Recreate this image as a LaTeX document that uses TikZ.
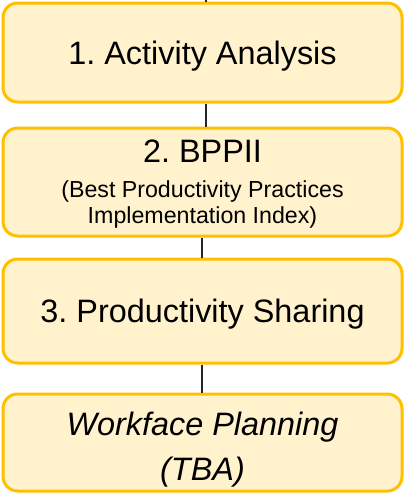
\documentclass[tikz,border=0pt]{standalone}
\usepackage{fontspec}
\setmainfont{Liberation Sans}
\frenchspacing
\definecolor{boxfill}{HTML}{FFF2CC}
\definecolor{boxline}{HTML}{FFC000}
\definecolor{conn}{HTML}{262626}
\begin{document}
\begin{tikzpicture}[x=0.75pt,y=-0.75pt,
  stage/.style={draw=boxline, fill=boxfill, line width=2.25pt, rounded corners=11pt,
    minimum width=399*0.75pt, inner sep=0pt, align=center, text=black},
  bigtext/.style={font=\fontsize{24.3}{33.75}\selectfont, text height=17.4pt, text depth=0pt},
  link/.style={draw=conn, line width=1.5pt}]
\useasboundingbox (0,0) rectangle (405,494);
\node[stage, bigtext, minimum height=99*0.75pt] (b1) at (202.5,52.5) {1. Activity Analysis};
\node[stage, font=\fontsize{17.4}{19.5}\selectfont, text height=70pt, text depth=8pt,
  minimum height=108*0.75pt] (b2) at (202.5,182)
  {{\fontsize{24.3}{24}\selectfont 2. BPPII}\\[6.8pt]
   (Best Productivity Practices\\Implementation Index)};
\node[stage, bigtext, minimum height=104*0.75pt] (b3) at (202.5,311) {3. Productivity Sharing};
\node[stage, font=\fontsize{24.3}{33.75}\selectfont\itshape, text height=60pt, text depth=3.75pt,
  minimum height=97*0.75pt] (b4) at (202.5,442.5) {Workface Planning\\(TBA)};
\coordinate (c1) at (206,0);
\coordinate (c2) at (202,0);
\draw[link] (c1) -- (b1.north -| c1);
\draw[link] (b1.south -| c1) -- (b2.north -| c1);
\draw[link] (b2.south -| c2) -- (b3.north -| c2);
\draw[link] (b3.south -| c2) -- (b4.north -| c2);
\end{tikzpicture}
\end{document}
